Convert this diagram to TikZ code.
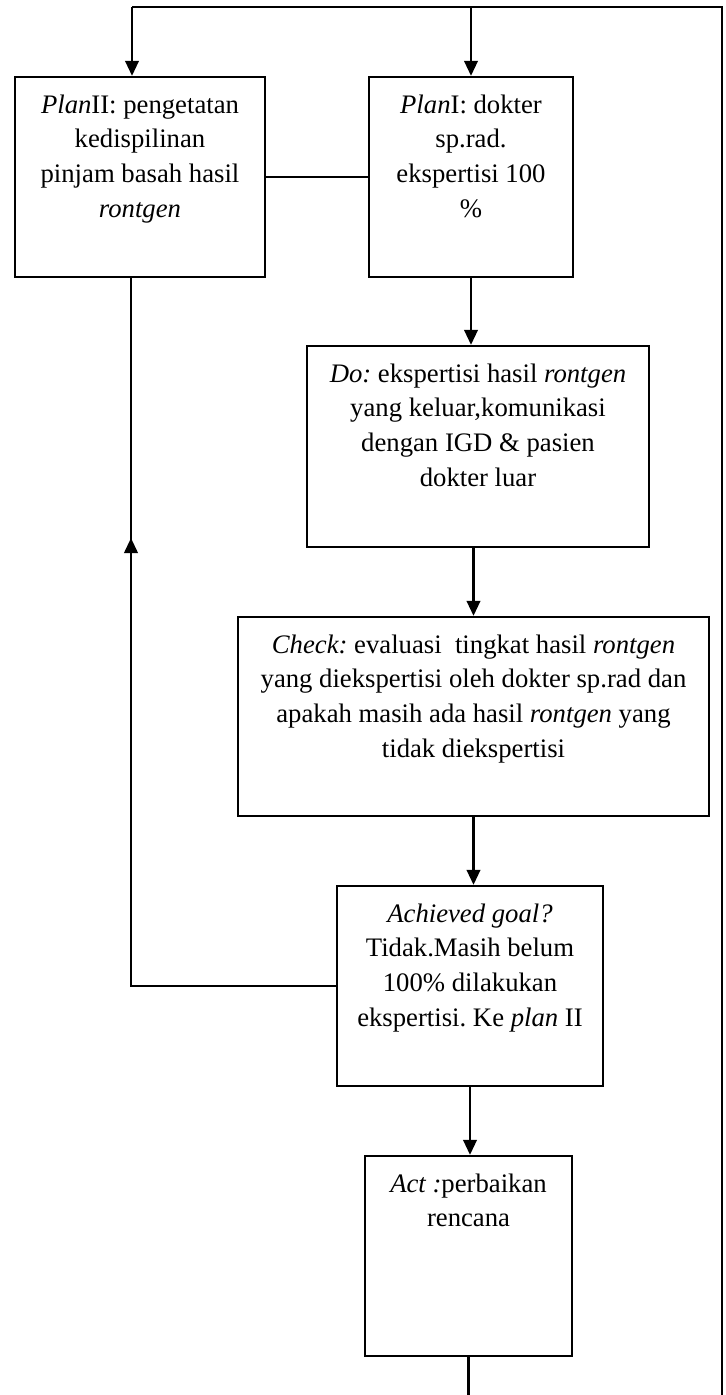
\documentclass[tikz,border=0pt]{standalone}
\usepackage{fontspec}
\setmainfont{Liberation Serif}
\usetikzlibrary{arrows.meta}
\frenchspacing
\newlength\px \setlength\px{0.02cm}
\newcommand{\isikotak}[3]{\parbox[c][#2\px][t]{#1\px}{\centering\rule{0pt}{20.5pt}#3}}
\tikzset{kotak/.style={draw,line width=1.3pt,inner sep=0pt}}
\begin{document}
\begin{tikzpicture}[x=\px,y=-\px,>={Triangle[length=0.3cm,width=0.27cm]}, font=\fontsize{15.2}{19.9}\selectfont, line join=miter, line width=1.3pt]
		\def\xkanan{722} \def\yatas{7} \def\ybawah{1395} % batas garis
		\def\xkiri{131}
		\useasboundingbox (0,0) rectangle (726,1395);
		\node[kotak] (plantwo) at (140,177) {\isikotak{250}{200}{\textit{Plan}II: pengetatan\\ kedispilinan\\ pinjam basah hasil\\ \textit{rontgen}}};
		\node[kotak] (planone) at (471,177) {\isikotak{204}{200}{\textit{Plan}I: dokter\\ sp.rad.\\ ekspertisi 100\\ \%}};
		\node[kotak] (do) at (478,446.5) {\isikotak{342}{201}{\textit{Do:} ekspertisi hasil \textit{rontgen}\\ yang keluar,komunikasi\\ dengan IGD \& pasien\\ dokter luar}};
		\node[kotak] (check) at (473.5,716.5) {\isikotak{471}{199}{\textit{Check:} evaluasi\ \ tingkat hasil \textit{rontgen}\\ yang diekspertisi oleh dokter sp.rad dan\\ apakah masih ada hasil \textit{rontgen} yang\\ tidak diekspertisi}};
		\node[kotak] (achieved) at (470,986) {\isikotak{266}{200}{\textit{Achieved goal?}\\ Tidak.Masih belum\\ 100\% dilakukan\\ ekspertisi. Ke \textit{plan} II}};
		\node[kotak] (act) at (468.5,1256) {\isikotak{207}{200}{\textit{Act :}perbaikan\\ rencana}};
		\coordinate (ataskiri) at (\xkiri+1,\yatas);
		\coordinate (ataskanan) at (\xkanan,\yatas);
		\coordinate (bawahkanan) at (\xkanan,\ybawah);
		\coordinate (kiri) at (\xkiri,986);
		\coordinate (panahkiri) at (\xkiri,538);
		% garis
		\draw (bawahkanan) -- (ataskanan) -- (ataskiri);
		\draw[->] (ataskiri) -- (ataskiri |- plantwo.north);
		\draw[->] (planone.north |- ataskanan) -- (planone.north);
		\draw (plantwo) -- (planone);
		\draw[->] (planone.south) -- (planone.south |- do.north);
		\draw[->] (do.south -| check.north) -- (check.north);
		\draw[->] (check.south) -- (check.south |- achieved.north);
		\draw[->] (achieved.south) -- (achieved.south |- act.north);
		\draw (act.south) -- (act.south |- bawahkanan);
		\draw (achieved.west) -- (kiri) -- (kiri |- plantwo.south);
		\draw[->] (kiri) -- (panahkiri);
\end{tikzpicture}
\end{document}
